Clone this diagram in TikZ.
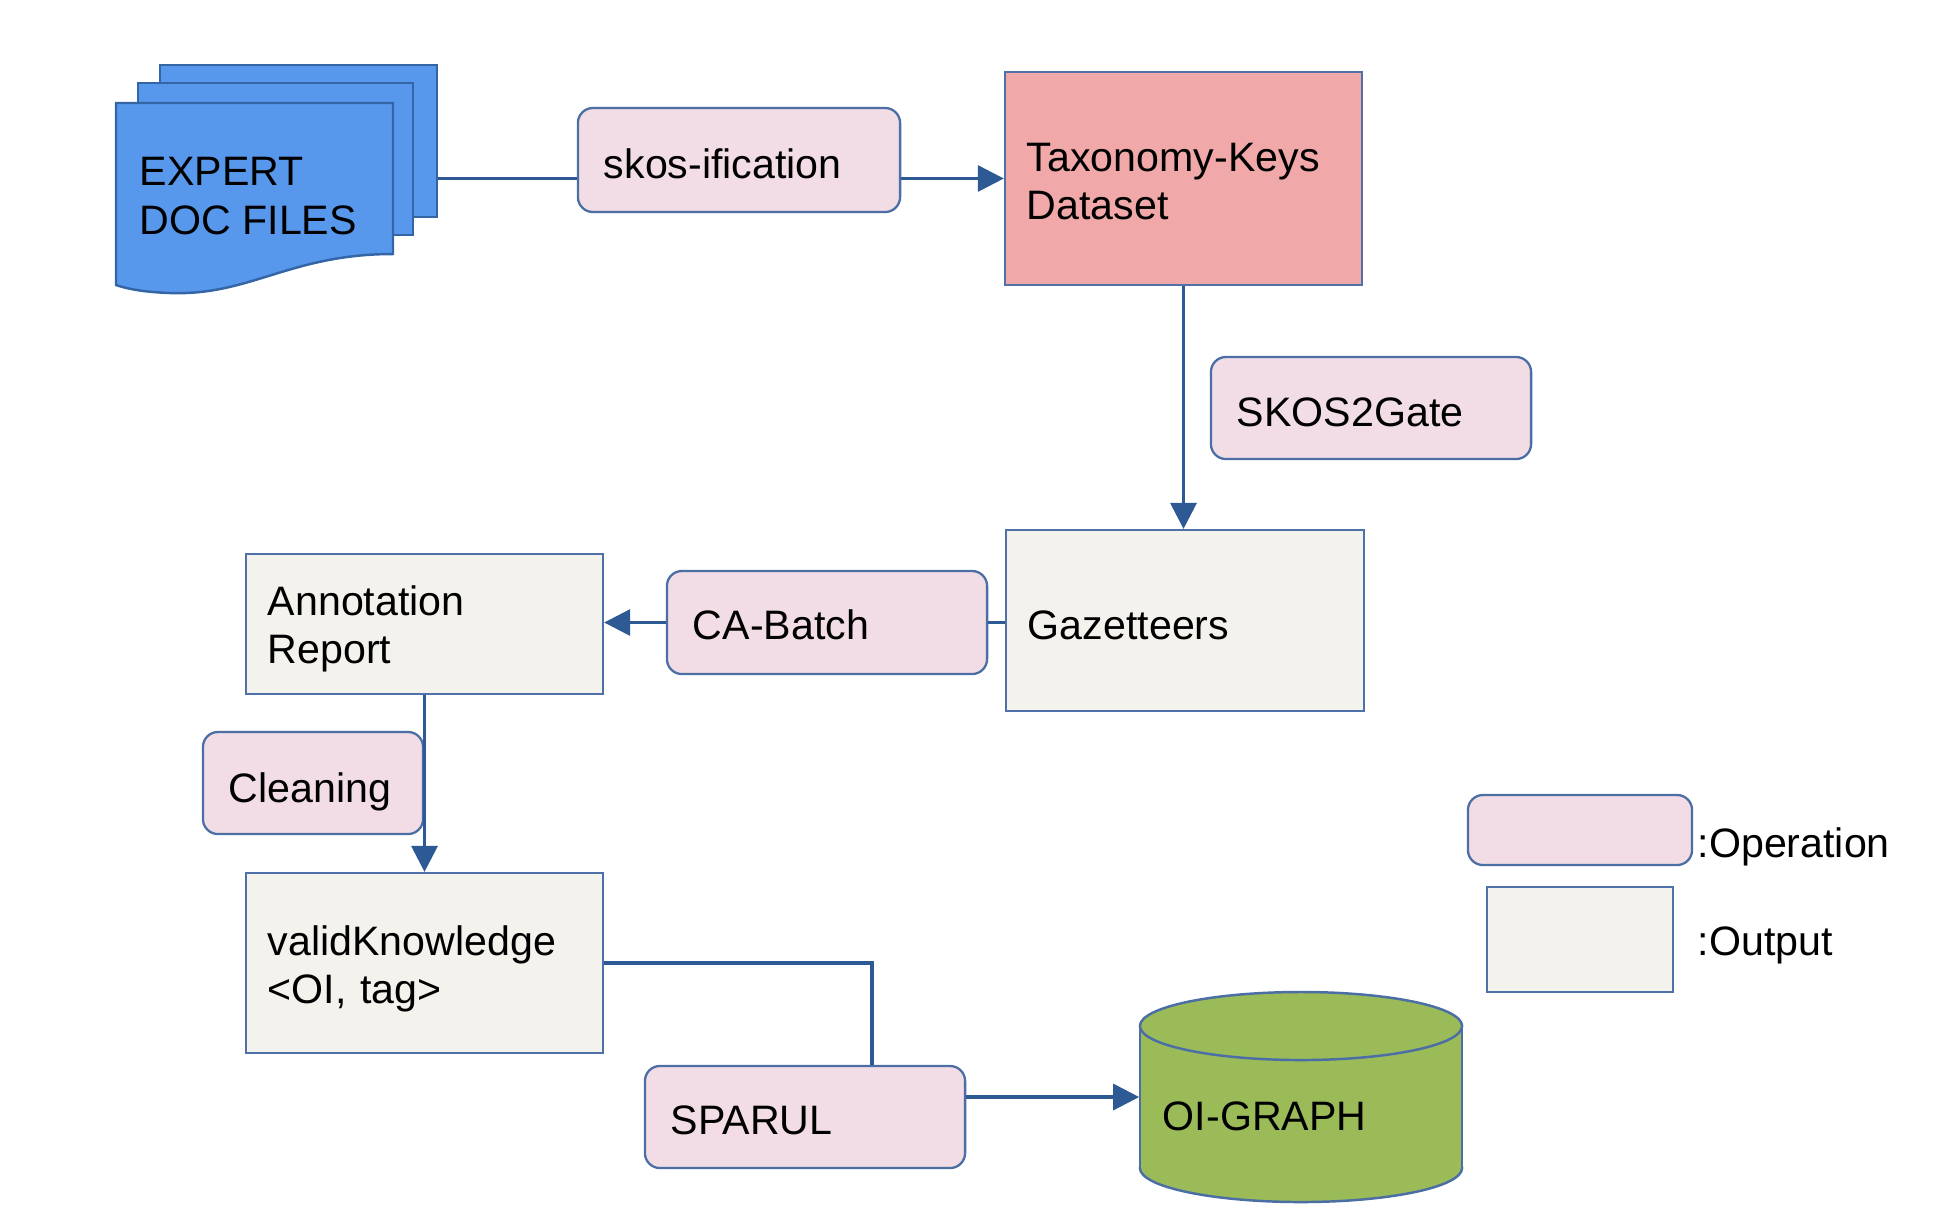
\documentclass[tikz,border=0pt]{standalone}
\usepackage{fontspec}
\setmainfont{Liberation Sans}
\usetikzlibrary{arrows.meta,calc}
\definecolor{docfill}{RGB}{88,152,236}
\definecolor{docline}{RGB}{52,101,164}
\definecolor{opfill}{RGB}{242,220,229}
\definecolor{opline}{RGB}{75,110,165}
\definecolor{outfill}{RGB}{244,242,236}
\definecolor{outline}{RGB}{79,113,170}
\definecolor{taxfill}{RGB}{240,168,168}
\definecolor{cylfill}{RGB}{155,187,89}
\definecolor{conncol}{RGB}{45,90,148}
\newcommand\mystrut[1]{\rule{0pt}{#1}}
\tikzset{
  txt/.style={font=\fontsize{11.7}{13.7}\selectfont},
  opbox/.style={txt, draw=opline, fill=opfill, line width=0.65pt, rounded corners=0.15cm, inner xsep=0.26cm, align=left},
  outbox/.style={txt, draw=outline, fill=outfill, line width=0.6pt, inner xsep=0.22cm, align=left},
  page/.style={draw=docline, fill=docfill, line width=0.7pt, inner sep=0},
  conn/.style={draw=conncol, line width=0.9pt},
  arr/.style={conn, -{Triangle[length=0.26cm,width=0.26cm]}},
}
\begin{document}
\begin{tikzpicture}[x=0.01cm,y=-0.01cm]
\useasboundingbox (0,0) rectangle (1952,1226);
% document stack
\node[page, minimum width=2.77cm, minimum height=1.52cm] (back) at (298.5,141) {};
\node[page, minimum width=2.75cm, minimum height=1.52cm] (middle) at (275.5,159) {};
\draw[page] (116,103) -- (393,103) -- (393,254)
  .. controls (290,254) and (250,296) .. (170,293)
  .. controls (140,292) and (125,288) .. (116,285) -- cycle;
\node[txt, anchor=west, inner sep=0, align=left] (docs) at (139,196) {EXPERT\\DOC FILES};
% operations
\node[opbox, text width=2.70cm, minimum height=1.04cm] (skos) at (739,160) {\mystrut{0.38cm}skos-ification};
\node[opbox, text width=2.68cm, minimum height=1.02cm] (s2g) at (1371,408) {\mystrut{0.38cm}SKOS2Gate};
\node[opbox, text width=2.68cm, minimum height=1.03cm] (cab) at (827,622.5) {\mystrut{0.35cm}CA-Batch};
\node[opbox, text width=1.68cm, minimum height=1.02cm] (clean) at (313,783) {\mystrut{0.48cm}Cleaning};
\node[opbox, text width=2.68cm, minimum height=1.02cm] (sparul) at (805,1117) {\mystrut{0.35cm}SPARUL};
% outputs
\node[outbox, fill=taxfill, text width=3.13cm, minimum height=2.13cm] (tax) at (1183.5,178.5) {\mystrut{0.35cm}Taxonomy-Keys\\Dataset};
\node[outbox, text width=3.14cm, minimum height=1.81cm] (gaz) at (1185,620.5) {\mystrut{0.38cm}Gazetteers};
\node[outbox, text width=3.13cm, minimum height=1.40cm] (ann) at (424.5,624) {\mystrut{0.40cm}Annotation\\Report};
\node[outbox, text width=3.13cm, minimum height=1.80cm] (valid) at (424.5,963) {\mystrut{0.42cm}validKnowledge\\<OI, tag>};
% cylinder
\fill[cylfill] (1301,1168) ellipse [x radius=1.61cm, y radius=0.34cm];
\draw[opline, line width=0.7pt] (1301,1168) ellipse [x radius=1.61cm, y radius=0.34cm];
\fill[cylfill] (1140,1026) rectangle (1462,1168);
\draw[opline, line width=0.7pt] (1140,1026) -- (1140,1168) (1462,1026) -- (1462,1168);
\draw[opline, fill=cylfill, line width=0.7pt] (1301,1026) ellipse [x radius=1.61cm, y radius=0.34cm];
\node[txt, text width=2.76cm, inner xsep=0.23cm, inner ysep=0, align=left, text height=0.66cm, text depth=0pt] (cyl) at (1301,1097) {OI-GRAPH};
% legend
\node[draw=opline, fill=opfill, line width=0.65pt, rounded corners=0.15cm, minimum width=2.24cm, minimum height=0.70cm, inner sep=0] (legop) at (1580,830) {};
\node[draw=outline, fill=outfill, line width=0.6pt, minimum width=1.86cm, minimum height=1.05cm, inner sep=0] (legout) at (1580,939.5) {};
\node[txt, anchor=base west, inner sep=0] (legoplab) at (1697,857) {:Operation};
\node[txt, anchor=base west, inner sep=0] (legoutlab) at (1697,955) {:Output};
% connectors
\draw[conn] (back.east |- tax.center) -- (skos.west |- tax.center);
\draw[arr] (skos.east |- tax.center) -- (tax.west);
\draw[arr] (tax.south) -- (tax.south |- gaz.north);
\draw[conn] (gaz.west |- cab.east) -- (cab.east);
\draw[arr] (cab.west) -- (ann.east |- cab.west);
\draw[arr] (ann.south) -- (valid.north);
\draw[conn] (valid.east) -| ([xshift=0.67cm]sparul.north);
\draw[arr] (sparul.east |- cyl.center) -- (cyl.west);
\end{tikzpicture}
\end{document}
